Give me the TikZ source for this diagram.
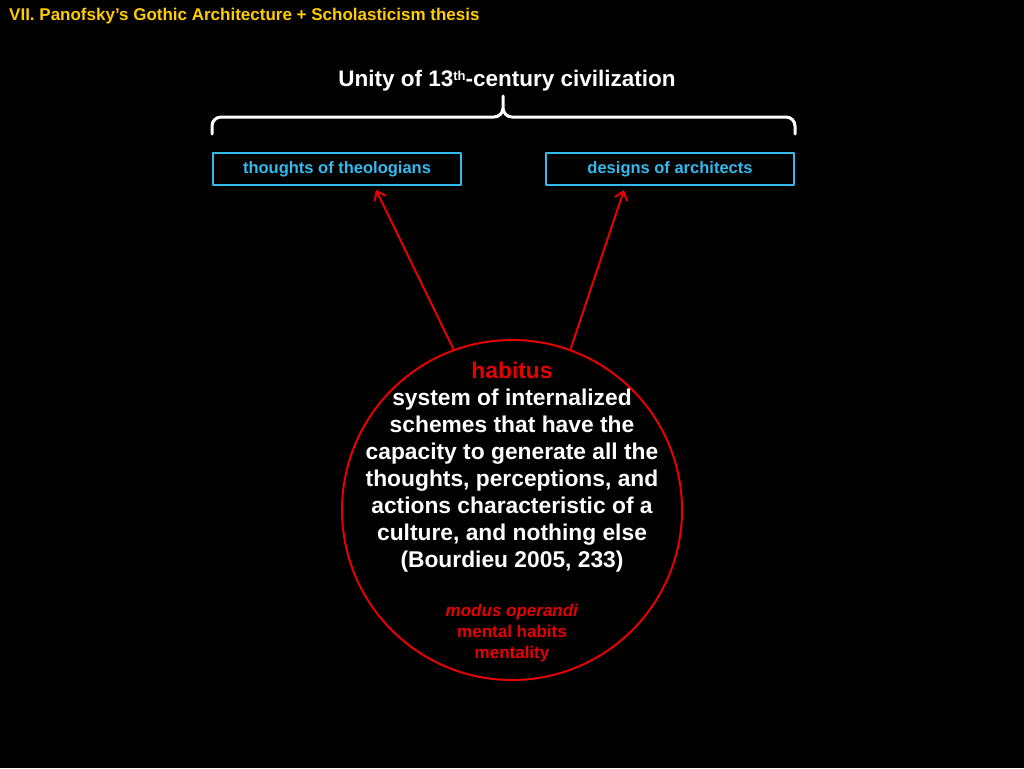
\documentclass[tikz,border=0pt]{standalone}
\usepackage{fontspec}
\setmainfont{Liberation Sans}
\usetikzlibrary{arrows.meta,positioning,calc}
\definecolor{slideyellow}{RGB}{255,204,0}
\definecolor{boxcyan}{RGB}{51,187,238}
\definecolor{habred}{RGB}{230,0,0}

\begin{document}
\begin{tikzpicture}[x=1pt,y=-1pt,line join=round,line cap=round,
  thesisbox/.style={draw=boxcyan,line width=2pt,minimum width=248pt,minimum height=32pt,inner sep=0pt,text=boxcyan,font=\fontsize{16.5}{19}\selectfont\bfseries},
  genarrow/.style={draw=habred,line width=2pt,-{Straight Barb[length=8pt,width=13pt,line width=2pt]}}]
  \fill[black] (0,0) rectangle (1024,768);
  \node[anchor=west,inner sep=0pt,text=slideyellow,font=\fontsize{17}{20}\selectfont\bfseries] (title) at (9,16) {VII. Panofsky’s Gothic Architecture + Scholasticism thesis};
  \node[text=white,font=\fontsize{22.5}{26}\selectfont\bfseries] (unity) at (507,81) {Unity of 13\raisebox{0.3em}{\fontsize{13}{13}\selectfont th}-century civilization};
  \node[thesisbox] (theo) at (337,169) {thoughts of theologians};
  \node[thesisbox] (arch) at (670,169) {designs of architects};
  \node[circle,draw=habred,line width=2pt,minimum size=340pt,inner sep=0pt] (hab) at (512,510) {};
  \node[align=center,text=white,inner sep=0pt,font=\fontsize{22.8}{27}\selectfont\bfseries] (habdef) at (512,467) {\textcolor{habred}{habitus}\\system of internalized\\schemes that have the\\capacity to generate all the\\thoughts, perceptions, and\\actions characteristic of a\\culture, and nothing else\\(Bourdieu 2005, 233)};
  \node[align=center,text=habred,inner sep=0pt,font=\fontsize{17}{21}\selectfont\bfseries] (habalt) at (512,633) {\textit{modus operandi}\\mental habits\\mentality};
  \coordinate (brL) at ([yshift=18pt]theo.north west);
  \coordinate (brR) at ([yshift=18pt]arch.north east);
  \coordinate (brT) at (503,96);
  \coordinate (brM) at (503,117);
  \draw[white,line width=3pt,rounded corners=9pt] (brL) -- (brL|-brM) -- (brM) -- (brT) (brT) -- (brM) -- (brR|-brM) -- (brR);
  \draw[genarrow] (hab.110) -- ([xshift=39pt,yshift=-4pt]theo.south);
  \draw[genarrow] (hab.70) -- ([xshift=-46pt,yshift=-4pt]arch.south);
\end{tikzpicture}
\end{document}
